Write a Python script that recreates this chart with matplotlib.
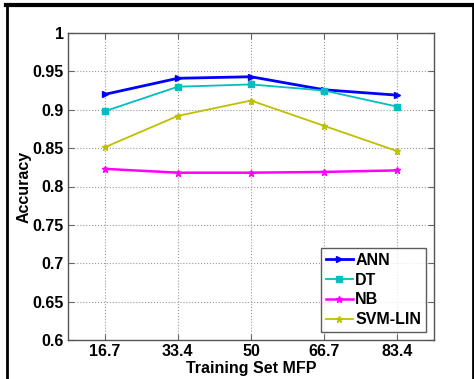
import matplotlib
matplotlib.use('Agg')
import matplotlib.pyplot as plt
from matplotlib.lines import Line2D

plt.rcParams['font.family'] = 'Liberation Sans'
plt.rcParams['font.weight'] = 'bold'

labels = ['16.7', '33.4', '50', '66.7', '83.4']
ann = [0.920, 0.941, 0.943, 0.926, 0.919]
dt = [0.898, 0.930, 0.933, 0.925, 0.904]
nb = [0.823, 0.818, 0.818, 0.819, 0.821]
svm = [0.851, 0.892, 0.912, 0.879, 0.846]

x = list(range(1, len(labels) + 1))

fig = plt.figure(figsize=(4.74, 3.79), dpi=100)
ax = fig.add_axes([68/474, 1 - 340/379, (434-68)/474, (340-33)/379])

ax.plot(x, ann, color=(0, 0, 1), lw=2, marker='>', ms=4, label='ANN')
ax.plot(x, dt, color=(0, 0.75, 0.75), lw=1.3, marker='s', ms=5, label='DT')
ax.plot(x, nb, color=(1, 0, 1), lw=1.8, marker='*', ms=5, label='NB')
ax.plot(x, svm, color=(0.75, 0.75, 0), lw=1.3, marker='*', ms=5, label='SVM-LIN')

ax.set_xlim(0.5, 5.5)
ax.set_ylim(0.6, 1)
ax.set_xticks(x)
ax.set_xticklabels(labels)
ax.set_yticks([0.6, 0.65, 0.7, 0.75, 0.8, 0.85, 0.9, 0.95, 1])
ax.set_yticklabels(['0.6', '0.65', '0.7', '0.75', '0.8', '0.85', '0.9', '0.95', '1'])
ax.grid(True, linestyle=':', color='#999999', lw=0.8)
ax.tick_params(direction='in', top=True, right=True, length=4, color='#666666',
               labelsize=11.5, pad=3)
for s in ax.spines.values():
    s.set_color('#555555')
    s.set_linewidth(1)

ax.set_xlabel('Training Set MFP', fontsize=11.5, fontweight='bold', labelpad=1)
ax.set_ylabel('Accuracy', fontsize=11.5, fontweight='bold')
ax.yaxis.set_label_coords(-0.10, 0.5)

leg = ax.legend(loc='lower right', fontsize=11.5, frameon=True, fancybox=False,
                handlelength=1.7, handletextpad=0.15, borderpad=0.3,
                labelspacing=0.3, borderaxespad=0.5)
leg.get_frame().set_edgecolor('#333333')
leg.get_frame().set_linewidth(1)

# outer frame of the cropped figure
fig.add_artist(Line2D([6.5/474, 6.5/474], [0, 1 - 4/379], color='black', lw=2,
                      transform=fig.transFigure))
fig.add_artist(Line2D([6/474, 1], [1 - 5/379, 1 - 5/379], color='black', lw=3,
                      transform=fig.transFigure))
fig.add_artist(Line2D([472.5/474, 472.5/474], [0, 1 - 4/379], color='black', lw=2,
                      transform=fig.transFigure))

fig.savefig('out.png', dpi=100)
